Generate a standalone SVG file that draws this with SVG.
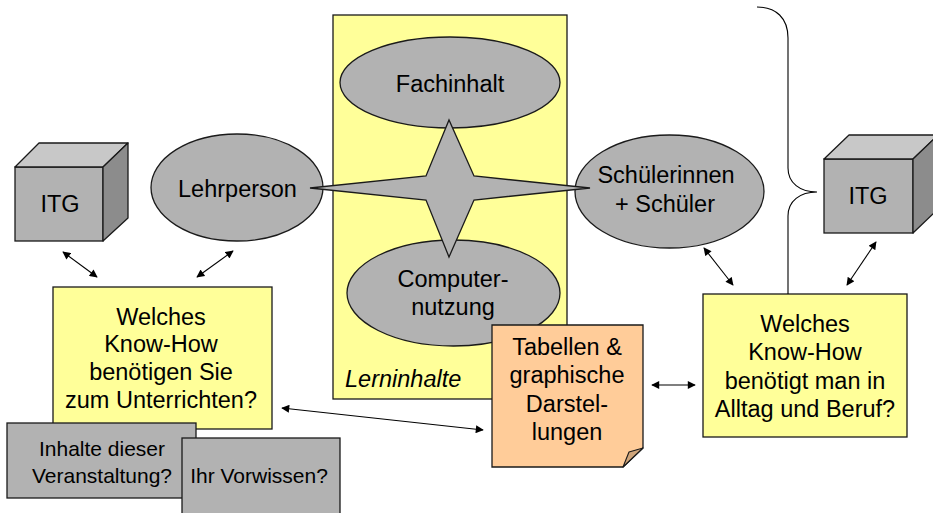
<svg xmlns="http://www.w3.org/2000/svg" width="933" height="513" viewBox="0 0 933 513">
<style>
text{font-family:"Liberation Sans",Arial,sans-serif;font-size:23.5px;fill:#000}
.c{text-anchor:middle}
.s{font-size:21px}
.yel{fill:#FFFF99;stroke:#1a1a1a;stroke-width:1.3}
.gry{fill:#B2B2B2;stroke:#1a1a1a;stroke-width:1.3}
.top{fill:#C8C8C8;stroke:#1a1a1a;stroke-width:1.3;stroke-linejoin:round}
.side{fill:#8C8C8C;stroke:#1a1a1a;stroke-width:1.3;stroke-linejoin:round}
.ln{stroke:#000;stroke-width:1.1;fill:none}
.arr{marker-start:url(#ah);marker-end:url(#ah)}
</style>
<defs>
<marker id="ah" viewBox="0 0 10 10" refX="9" refY="5" markerWidth="9" markerHeight="8" markerUnits="userSpaceOnUse" orient="auto-start-reverse">
<path d="M0,0 L10,5 L0,10 z" fill="#000"/>
</marker>
</defs>

<g id="lerninhalte">
<rect class="yel" x="333" y="15" width="234" height="384"/>
<text x="345" y="387" font-style="italic">Lerninhalte</text>
</g>

<g id="fachinhalt">
<ellipse class="gry" cx="450" cy="82.5" rx="110" ry="45.5"/>
<text class="c" x="450" y="92">Fachinhalt</text>
</g>

<g id="computernutzung">
<ellipse class="gry" cx="453.5" cy="293" rx="106.5" ry="53"/>
<text class="c" x="453" y="287">Computer-</text>
<text class="c" x="453" y="315">nutzung</text>
</g>

<g id="lehrperson">
<ellipse class="gry" cx="237" cy="187.5" rx="86" ry="53.5"/>
<text class="c" x="237.5" y="197">Lehrperson</text>
</g>

<g id="schueler">
<ellipse class="gry" cx="669.5" cy="191.5" rx="94.5" ry="56.5"/>
<text class="c" x="666" y="183">Schülerinnen</text>
<text class="c" x="665" y="212">+ Schüler</text>
</g>

<g id="stern">
<path class="gry" d="M310,188 L426,176 L449,120 L474,176 L590,188 L474,200 L449,257 L426,200 Z" stroke-linejoin="miter"/>
</g>

<g id="itg-links">
<rect class="gry" x="15" y="167" width="88" height="74"/>
<path class="top" d="M15,167 L39,143 L128,143 L103,167 Z"/>
<path class="side" d="M103,167 L128,143 L128,218 L103,241 Z"/>
<text class="c" x="60" y="212">ITG</text>
</g>

<g id="itg-rechts">
<rect class="gry" x="824" y="159" width="89" height="74"/>
<path class="top" d="M824,159 L849,135 L938,135 L913,159 Z"/>
<path class="side" d="M913,159 L938,135 L938,209 L913,233 Z"/>
<text class="c" x="868" y="204">ITG</text>
</g>

<g id="knowhow-links">
<rect class="yel" x="53" y="287" width="219" height="142"/>
<text class="c" x="161" y="325">Welches</text>
<text class="c" x="161" y="352">Know-How</text>
<text class="c" x="161" y="380">benötigen Sie</text>
<text class="c" x="161" y="408">zum Unterrichten?</text>
</g>

<g id="inhalte">
<rect class="gry" x="7" y="423" width="189" height="75"/>
<text class="c s" x="102" y="456">Inhalte dieser</text>
<text class="c s" x="102" y="483">Veranstaltung?</text>
</g>

<g id="vorwissen">
<rect class="gry" x="182" y="438" width="158" height="80"/>
<text class="c s" x="259" y="483">Ihr Vorwissen?</text>
</g>

<g id="tabellen">
<path d="M492,325 H643 V448 L623,467 H492 Z" fill="#FFCC99" stroke="#1a1a1a" stroke-width="1.3"/>
<path d="M643,448 L629,452 L623,467 Z" fill="#CFA57B" stroke="#1a1a1a" stroke-width="1.1" stroke-linejoin="round"/>
<text class="c" x="567" y="355">Tabellen &amp;</text>
<text class="c" x="567" y="383">graphische</text>
<text class="c" x="567" y="412">Darstel-</text>
<text class="c" x="567" y="440">lungen</text>
</g>

<g id="knowhow-rechts">
<rect class="yel" x="703" y="294" width="204" height="143"/>
<text class="c" x="805" y="332">Welches</text>
<text class="c" x="805" y="360">Know-How</text>
<text class="c" x="805" y="389">benötigt man in</text>
<text class="c" x="805" y="417">Alltag und Beruf?</text>
</g>

<g id="connectors">
<path class="ln" d="M757,7 C776,7 788,18 788,38 L788,168 C788,183 800,192 817,192 C800,192 788,201 788,216 L788,294"/>
<line class="ln arr" x1="63" y1="252" x2="97" y2="277"/>
<line class="ln arr" x1="233" y1="251" x2="197" y2="277"/>
<line class="ln arr" x1="704" y1="248" x2="733" y2="285"/>
<line class="ln arr" x1="876" y1="242" x2="847" y2="285"/>
<line class="ln arr" x1="652" y1="385" x2="695" y2="385"/>
<line class="ln arr" x1="282" y1="408" x2="483" y2="430"/>
</g>
</svg>
